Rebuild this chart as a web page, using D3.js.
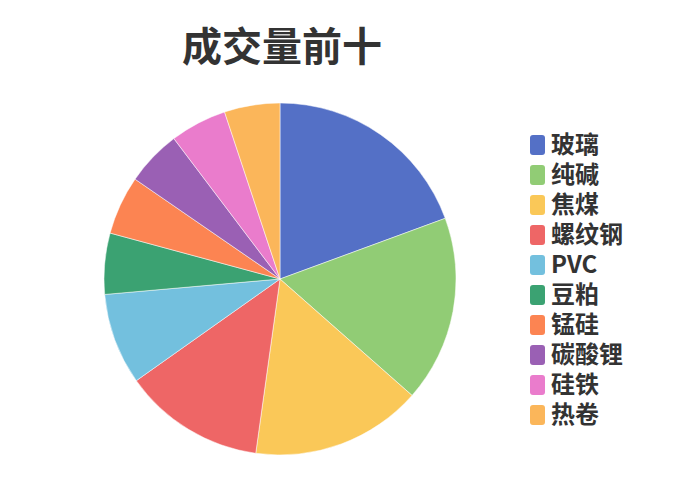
<!DOCTYPE html>
<html>
<head>
<meta charset="utf-8">
<script src="https://cdn.jsdelivr.net/npm/d3@7"></script>
<style>
  body { margin: 0; background: #fff; }
  text { font-family: "Noto Sans CJK SC", "Noto Sans", sans-serif; }
</style>
</head>
<body>
<div id="chart"></div>
<script>
// 成交量前十 (占比, %)
var categories = ['玻璃', '纯碱', '焦煤', '螺纹钢', 'PVC', '豆粕', '锰硅', '碳酸锂', '硅铁', '热卷'];
var values = [19.4, 17.1, 15.7, 13.0, 8.4, 5.6, 5.4, 5.1, 5.2, 5.1];
var colors = ['#5470c6', '#91cc75', '#fac858', '#ee6666', '#73c0de', '#3ba272', '#fc8452', '#9a60b4', '#ea7ccc', '#fbb65a'];

var width = 700, height = 500;
var cx = 280, cy = 279, r = 176;

var data = categories.map(function(c, i) { return {name: c, value: values[i]}; });

var svg = d3.select('#chart')
  .append('svg')
  .attr('width', width)
  .attr('height', height);

var color = d3.scaleOrdinal().domain(categories).range(colors);

var pie = d3.pie()
  .sort(null)
  .value(function(d) { return d.value; });

var arc = d3.arc().innerRadius(0).outerRadius(r);

svg.append('g')
  .attr('transform', 'translate(' + cx + ',' + cy + ')')
  .selectAll('path')
  .data(pie(data))
  .enter()
  .append('path')
  .attr('d', arc)
  .attr('fill', function(d) { return color(d.data.name); })
  .attr('stroke', '#fff')
  .attr('stroke-width', 0.5);

// title
svg.append('text')
  .text('成交量前十')
  .attr('x', 282)
  .attr('y', 61)
  .attr('text-anchor', 'middle')
  .attr('font-size', 40)
  .attr('font-weight', 'bold')
  .attr('fill', '#333');

// legend
var legendY = d3.scalePoint().domain(categories).range([145, 415]);

var item = svg.append('g')
  .selectAll('g')
  .data(categories)
  .enter()
  .append('g')
  .attr('transform', function(d) { return 'translate(530,' + legendY(d) + ')'; });

item.append('rect')
  .attr('x', 0)
  .attr('y', -10)
  .attr('width', 15)
  .attr('height', 20)
  .attr('rx', 3)
  .attr('fill', function(d) { return color(d); });

item.append('text')
  .text(function(d) { return d; })
  .attr('x', 21)
  .attr('y', 0)
  .attr('dy', '0.35em')
  .attr('font-size', 24)
  .attr('font-weight', 'bold')
  .attr('fill', '#333');
</script>
</body>
</html>
